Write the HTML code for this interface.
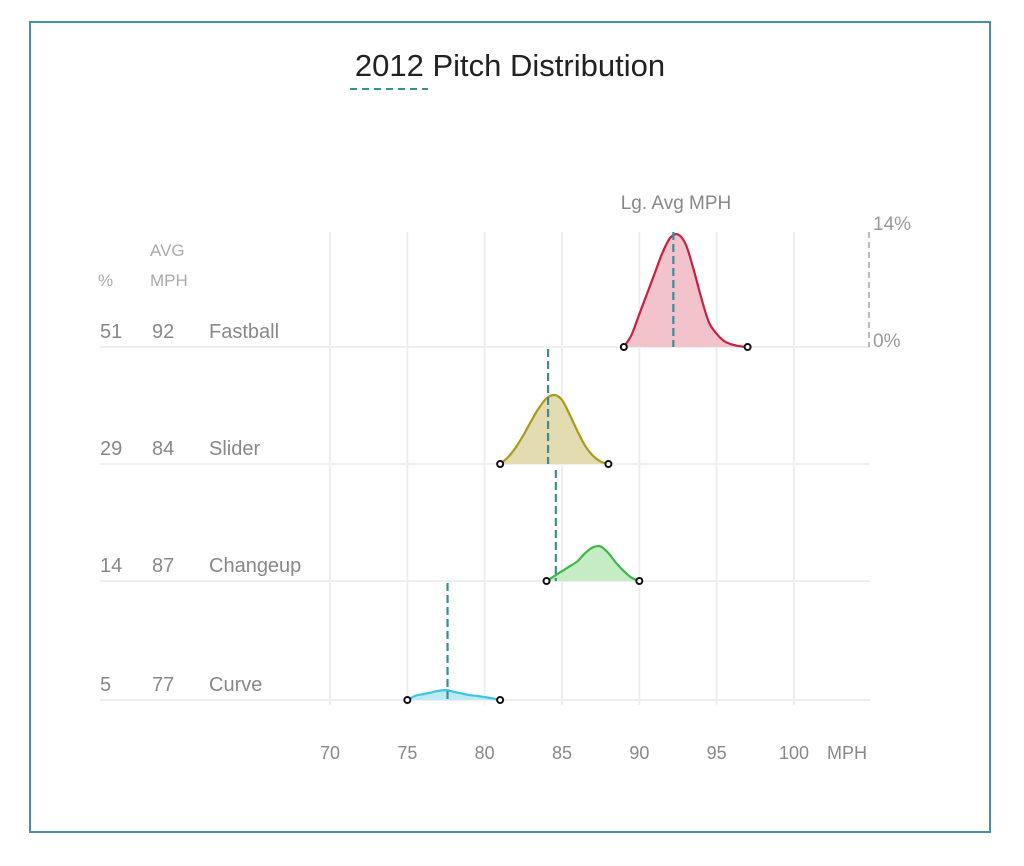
<!DOCTYPE html>
<html><head><meta charset="utf-8"><style>
body{margin:0;background:#fff;font-family:"Liberation Sans",sans-serif;}
</style></head><body>
<svg width="1024" height="861">
<rect x="30" y="22" width="960" height="810" fill="#fff" stroke="#4a90a4" stroke-width="2"/>
<text x="510" y="76" text-anchor="middle" font-size="31" fill="#222">2012 Pitch Distribution</text>
<line x1="350" y1="89" x2="428" y2="89" stroke="#3a8c96" stroke-width="2" stroke-dasharray="7,5"/>
<text x="676" y="209" text-anchor="middle" font-size="19" fill="#888">Lg. Avg MPH</text>
<text x="98" y="286" font-size="17" fill="#aaa">%</text>
<text x="150" y="256" font-size="17" fill="#aaa">AVG</text>
<text x="150" y="286" font-size="17" fill="#aaa">MPH</text>
<g id="grid"></g><g id="marks"></g>
<line x1="869" y1="232" x2="869" y2="347" stroke="#bbb" stroke-width="2" stroke-dasharray="6,4"/>
<text x="873" y="230" font-size="19" fill="#999">14%</text>
<text x="873" y="347" font-size="19" fill="#999">0%</text>
<text x="827" y="759" font-size="18" fill="#888">MPH</text>
</svg>
<script>
const ticks=[70,75,80,85,90,95,100];
const pitches=["Fastball","Slider","Changeup","Curve"];
const pcts=[51,29,14,5];
const avgs=[92,84,87,77];
const lgAvg=[92.2,84.1,84.6,77.6];
const fbStart=89;
const fbY=[0,1.5,4,6.5,9,11.5,13.3,13.7,12.5,9.5,6,3,1.6,0.7,0.3,0.1,0];
const slStart=81;
const slY=[0,0.8,2,3.5,5.2,6.8,8,8.4,7.8,6,4,2.2,1,0.3,0];
const chStart=84;
const chY=[0,0.6,1.2,1.8,2.4,3.4,4.1,4.2,3.4,2.2,1.2,0.4,0];
const cuStart=75;
const cuY=[0,0.5,0.7,0.9,1.1,1.2,1.0,0.8,0.6,0.5,0.35,0.2,0];
const step=0.5;
const starts=[fbStart,slStart,chStart,cuStart], seriesY=[fbY,slY,chY,cuY];
const strokes=["#c8203f","#a89a1a","#3cb846","#3cc4e4"];
const fills=["#f3c3cb","#e2dcb0","#c5ecc5","#bdeaf5"];
const baseY=[347,464,581,700];
const ns="http://www.w3.org/2000/svg";
const x=v=>330+(v-70)*(794-330)/30;
const h=p=>p*115/14;
const grid=document.getElementById('grid'),marks=document.getElementById('marks');
function mk(t,a,p){const e=document.createElementNS(ns,t);for(const k in a)e.setAttribute(k,a[k]);p.appendChild(e);return e;}
ticks.forEach((t,i)=>{
 const l=mk('line',{x1:x(t),x2:x(t),y1:232,y2:705,stroke:'#eee','stroke-width':2},grid);
 
 
 const tx=mk('text',{x:x(t),y:759,'text-anchor':'middle','font-size':18,fill:'#888'},grid);
 tx.textContent=t;
 
 
});
function smooth(pts){let d='M'+pts[0][0]+','+pts[0][1];for(let i=0;i<pts.length-1;i++){const p0=pts[Math.max(0,i-1)],p1=pts[i],p2=pts[i+1],p3=pts[Math.min(pts.length-1,i+2)];d+=' C'+(p1[0]+(p2[0]-p0[0])/6)+','+(p1[1]+(p2[1]-p0[1])/6)+' '+(p2[0]-(p3[0]-p1[0])/6)+','+(p2[1]-(p3[1]-p1[1])/6)+' '+p2[0]+','+p2[1];}return d;}
pitches.forEach((n,i)=>{
 const by=baseY[i];
 const bl=mk('line',{x1:100,x2:870,y1:by,y2:by,stroke:'#eee','stroke-width':2},grid);
 
 
 const labs=[[100,pcts[i],'pct'],[152,avgs[i],'avg'],[209,n,'name']];
 labs.forEach(L=>{const t=mk('text',{x:L[0],y:by-9,'font-size':20,fill:'#888'},grid);t.textContent=L[1];
  
  });
 const pts=seriesY[i].map((v,j)=>[x(starts[i]+j*step),by-h(v)]);
 const d=smooth(pts);
 const f=mk('path',{d:d+' Z',fill:fills[i],stroke:'none'},marks);
 
 
 const s=mk('path',{d:d,fill:'none',stroke:strokes[i],'stroke-width':2.2},marks);
 
 
 const top=i==0?232:baseY[i-1]+(i==2?6:2);
 const al=mk('line',{x1:x(lgAvg[i]),x2:x(lgAvg[i]),y1:top,y2:by,stroke:'#3a8c96','stroke-width':2.2,'stroke-dasharray':'8,4'},marks);
 
 
 [pts[0],pts[pts.length-1]].forEach((p,k)=>{const c=mk('circle',{cx:p[0],cy:p[1],r:3,fill:'#fff',stroke:'#111','stroke-width':2},marks);
  
  });
});
</script>
</body></html>
